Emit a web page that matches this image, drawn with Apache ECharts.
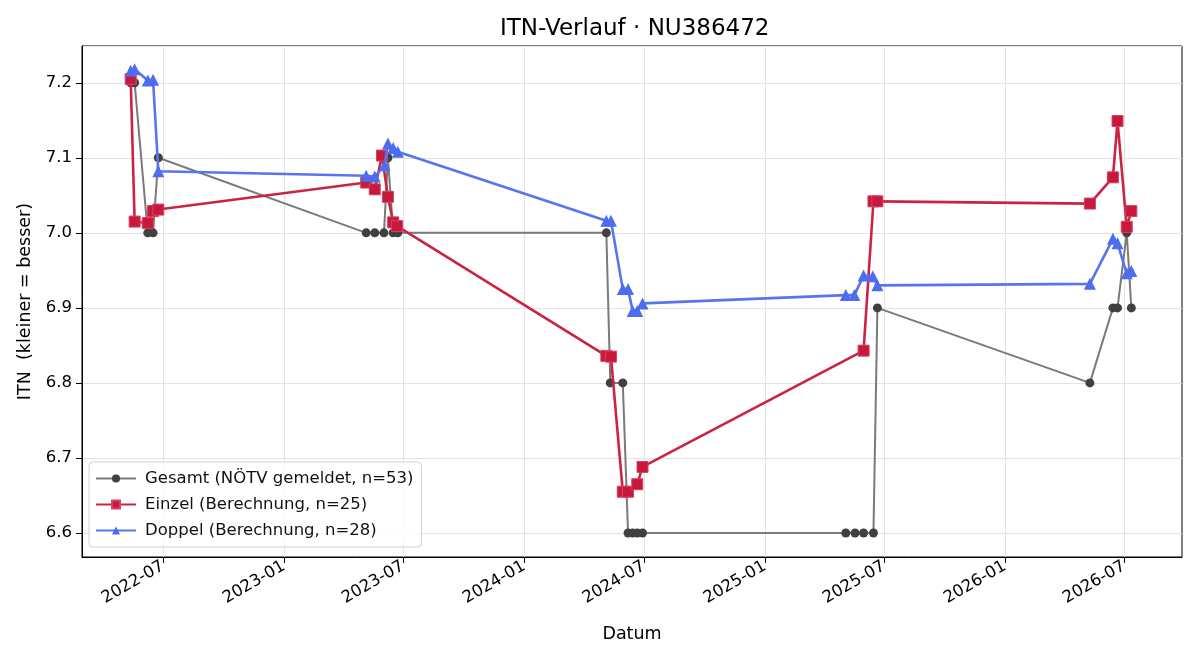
<!DOCTYPE html>
<html>
<head>
<meta charset="utf-8">
<title>ITN-Verlauf</title>
<script src="https://cdn.jsdelivr.net/npm/echarts@6/dist/echarts.min.js"></script>
<style>
  html, body { margin: 0; padding: 0; background: #fff; }
  #main { width: 1200px; height: 660px; }
</style>
</head>
<body>
<div id="main"></div>
<script>
// Gesamt (NÖTV gemeldet)
const gesamtDates = [
  "2022-05-13", "2022-05-19", "2022-06-08", "2022-06-16", "2022-06-24",
  "2023-05-06", "2023-05-19", "2023-06-02", "2023-06-08", "2023-06-16", "2023-06-23",
  "2024-05-05", "2024-05-11", "2024-05-30", "2024-06-07", "2024-06-14", "2024-06-21", "2024-06-29",
  "2025-05-04", "2025-05-18", "2025-05-31", "2025-06-15", "2025-06-21",
  "2026-05-10", "2026-06-14", "2026-06-21", "2026-07-05", "2026-07-12"
];
const gesamtValues = [
  7.2, 7.2, 7.0, 7.0, 7.1,
  7.0, 7.0, 7.0, 7.1, 7.0, 7.0,
  7.0, 6.8, 6.8, 6.6, 6.6, 6.6, 6.6,
  6.6, 6.6, 6.6, 6.6, 6.9,
  6.8, 6.9, 6.9, 7.0, 6.9
];

// Einzel (Berechnung)
const einzelDates = [
  "2022-05-13", "2022-05-19", "2022-06-08", "2022-06-16", "2022-06-24",
  "2023-05-06", "2023-05-19", "2023-05-30", "2023-06-08", "2023-06-16", "2023-06-22",
  "2024-05-05", "2024-05-12", "2024-05-30", "2024-06-07", "2024-06-21", "2024-06-29",
  "2025-05-31", "2025-06-15", "2025-06-21",
  "2026-05-10", "2026-06-14", "2026-06-21", "2026-07-05", "2026-07-12"
];
const einzelValues = [
  7.205, 7.015, 7.013, 7.029, 7.031,
  7.067, 7.058, 7.103, 7.048, 7.014, 7.009,
  6.836, 6.835, 6.655, 6.655, 6.665, 6.688,
  6.843, 7.042, 7.042,
  7.039, 7.074, 7.149, 7.008, 7.029
];

// Doppel (Berechnung)
const doppelDates = [
  "2022-05-13", "2022-05-19", "2022-06-08", "2022-06-16", "2022-06-24",
  "2023-05-06", "2023-05-19", "2023-06-03", "2023-06-08", "2023-06-16", "2023-06-23",
  "2024-05-05", "2024-05-12", "2024-05-30", "2024-06-07", "2024-06-14", "2024-06-21", "2024-06-29",
  "2025-05-04", "2025-05-17", "2025-05-31", "2025-06-14", "2025-06-21",
  "2026-05-10", "2026-06-14", "2026-06-21", "2026-07-05", "2026-07-12"
];
const doppelValues = [
  7.216, 7.218, 7.203, 7.204, 7.082,
  7.076, 7.075, 7.090, 7.119, 7.113, 7.108,
  7.016, 7.016, 6.925, 6.925, 6.896, 6.896, 6.906,
  6.917, 6.917, 6.943, 6.942, 6.930,
  6.932, 6.992, 6.986, 6.946, 6.949
];

const xTickLabels = ["2022-07", "2023-01", "2023-07", "2024-01", "2024-07", "2025-01", "2025-07", "2026-01", "2026-07"];

// date string -> timestamp (local)
const toTs = s => {
  const p = s.split("-");
  return new Date(+p[0], +p[1] - 1, p[2] ? +p[2] : 1).getTime();
};
const zip = (d, v) => d.map((x, i) => [toTs(x), v[i]]);
const xTicks = xTickLabels.map(toTs);

const FONT = "DejaVu Sans";

var myChart = echarts.init(document.getElementById("main"));
var option = {
  animation: false,
  textStyle: { fontFamily: FONT },
  title: {
    text: "ITN-Verlauf · NU386472",
    left: 495,
    top: 13,
    textStyle: { fontFamily: FONT, fontSize: 23, fontWeight: "normal", color: "#000" }
  },
  legend: {
    orient: "vertical",
    left: 89,
    top: 462,
    padding: [8, 8, 8, 6],
    itemGap: 9,
    itemWidth: 40,
    itemHeight: 10,
    backgroundColor: "rgba(255,255,255,0.85)",
    borderColor: "#d0d0d0",
    borderWidth: 1,
    borderRadius: 4,
    textStyle: { fontFamily: FONT, fontSize: 16.5, color: "#111", padding: [0, 0, 0, 4] },
    data: ["Gesamt (NÖTV gemeldet, n=53)", "Einzel (Berechnung, n=25)", "Doppel (Berechnung, n=28)"]
  },
  grid: {
    left: 82,
    right: 18,
    top: 46,
    bottom: 103,
    show: true,
    borderColor: "#000",
    borderWidth: 1,
    backgroundColor: "transparent"
  },
  xAxis: {
    type: "value",
    min: toTs("2022-02-28"),
    max: toTs("2026-09-27"),
    name: "Datum",
    nameLocation: "middle",
    nameGap: 68,
    nameTextStyle: { fontFamily: FONT, fontSize: 17.5, color: "#000" },
    axisLine: { show: true, lineStyle: { color: "#000", width: 1 } },
    axisTick: { show: true, length: 6, customValues: xTicks, lineStyle: { color: "#000" } },
    axisLabel: {
      customValues: xTicks,
      rotate: 30,
      fontFamily: FONT,
      fontSize: 16.5,
      color: "#000",
      margin: 8,
      formatter: function (v) {
        var d = new Date(v);
        return d.getFullYear() + "-" + String(d.getMonth() + 1).padStart(2, "0");
      }
    },
    splitLine: { show: true, lineStyle: { color: "#e3e3e3", width: 1 } }
  },
  yAxis: {
    type: "value",
    min: 6.568,
    max: 7.249,
    splitNumber: 7,
    name: "ITN  (kleiner = besser)",
    nameLocation: "middle",
    nameGap: 48,
    nameTextStyle: { fontFamily: FONT, fontSize: 17.5, color: "#000" },
    axisLine: { show: true, lineStyle: { color: "#000", width: 1 } },
    axisTick: { show: true, length: 6, lineStyle: { color: "#000" } },
    axisLabel: {
      fontFamily: FONT,
      fontSize: 16.5,
      color: "#000",
      margin: 10,
      showMinLabel: false,
      showMaxLabel: false,
      formatter: function (v) { return v.toFixed(1); }
    },
    splitLine: { show: true, lineStyle: { color: "#e3e3e3", width: 1 } }
  },
  series: [
    {
      name: "Gesamt (NÖTV gemeldet, n=53)",
      type: "line",
      data: zip(gesamtDates, gesamtValues),
      symbol: "circle",
      symbolSize: 9,
      showAllSymbol: true,
      lineStyle: { color: "#7a7a7a", width: 2 },
      itemStyle: { color: "#404040", borderWidth: 0 },
      z: 2
    },
    {
      name: "Einzel (Berechnung, n=25)",
      type: "line",
      data: zip(einzelDates, einzelValues),
      symbol: "rect",
      symbolSize: 11,
      showAllSymbol: true,
      lineStyle: { color: "#cb2343", width: 2.6 },
      itemStyle: { color: "#c8193c", borderColor: "#d44461", borderWidth: 1 },
      z: 3
    },
    {
      name: "Doppel (Berechnung, n=28)",
      type: "line",
      data: zip(doppelDates, doppelValues),
      symbol: "triangle",
      symbolSize: 12,
      showAllSymbol: true,
      lineStyle: { color: "#5874ef", width: 2.6 },
      itemStyle: { color: "#4d6cf0", borderWidth: 0 },
      z: 4
    }
  ]
};
myChart.setOption(option);
</script>
</body>
</html>
